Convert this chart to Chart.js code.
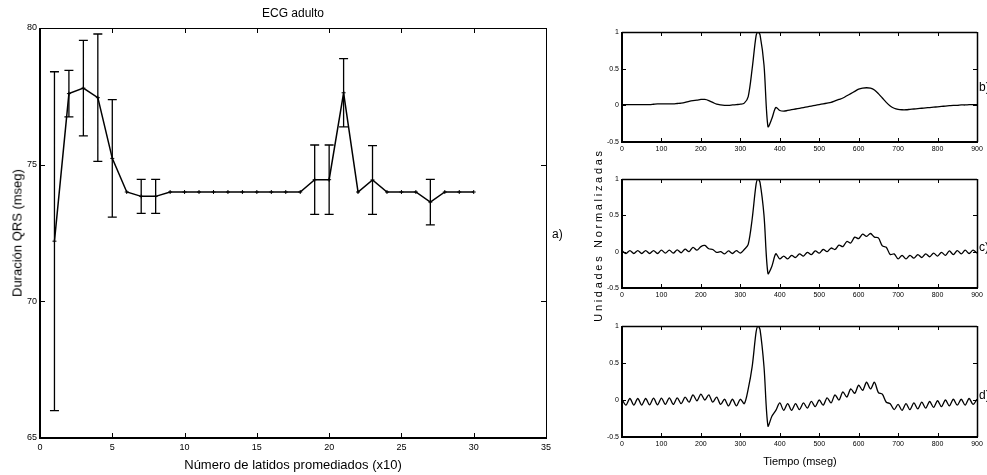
<!DOCTYPE html>
<html><head><meta charset="utf-8">
<script src="https://cdn.jsdelivr.net/npm/chart.js@4.4.1/dist/chart.umd.min.js"></script>
<style>
html,body{margin:0;padding:0;background:#fff;width:987px;height:475px;overflow:hidden;position:relative;font-family:'Liberation Sans',Arial,sans-serif;}
canvas{position:absolute;}
.t{position:absolute;color:#000;white-space:nowrap;line-height:1;}
.narrow{font-family:'Liberation Sans Narrow','Liberation Sans',Arial,sans-serif;}
</style></head>
<body>
<canvas id="cA" width="560" height="475" style="left:0;top:0"></canvas>
<canvas id="cB" width="397" height="134" style="left:590px;top:22px"></canvas>
<canvas id="cC" width="397" height="133" style="left:590px;top:169px"></canvas>
<canvas id="cD" width="397" height="135" style="left:590px;top:316px"></canvas>

<div class="t" style="left:293px;top:7px;font-size:12px;transform:translateX(-50%)">ECG adulto</div>
<div class="t" style="left:17px;top:233px;font-size:13px;transform:translate(-50%,-50%) rotate(-90deg)">Duración QRS (mseg)</div>
<div class="t" style="left:293px;top:458px;font-size:13px;transform:translateX(-50%)">Número de latidos promediados (x10)</div>
<div class="t" style="left:552px;top:228px;font-size:12px">a)</div>
<div class="t narrow" style="left:979px;top:81px;font-size:12px">b)</div>
<div class="t narrow" style="left:979px;top:241px;font-size:12px">c)</div>
<div class="t narrow" style="left:979px;top:389px;font-size:12px">d)</div>
<div class="t" style="left:598px;top:235px;font-size:11px;letter-spacing:2.7px;transform:translate(-50%,-50%) rotate(-90deg)">Unidades&nbsp;Normalizadas</div>
<div class="t narrow" style="left:800px;top:456px;font-size:11px;transform:translateX(-50%)">Tiempo (mseg)</div>

<script>
// ---------- Data: panel a) ----------
const latidos = [1,2,3,4,5,6,7,8,9,10,11,12,13,14,15,16,17,18,19,20,21,22,23,24,25,26,27,28,29,30];
const qrsMedia = [72.2,77.6,77.8,77.45,75.23,74.0,73.84,73.84,74,74,74,74,74,74,74,74,74,74,74.45,74.45,77.63,74,74.44,74,74,74,73.63,74,74,74];
const qrsError = [6.2,0.85,1.75,2.33,2.15,0,0.62,0.62,0,0,0,0,0,0,0,0,0,0,1.27,1.27,1.25,0,1.26,0,0,0,0.83,0,0,0];
const xTicksA = [0,5,10,15,20,25,30,35];
const yTicksA = [65,70,75,80];

// ---------- Data: panels b), c), d) ----------
const tiempo = [0,10,20,30,40,50,60,70,80,90,100,110,120,130,140,150,160,170,180,190,200,210,220,230,240,250,260,270,280,290,300,310,320,330,340,345,350,360,370,380,390,400,410,420,430,440,450,460,470,480,490,500,510,520,530,540,550,560,570,580,590,600,610,620,630,640,650,660,670,680,690,700,710,720,730,740,750,760,770,780,790,800,810,820,830,840,850,860,870,880,890,900];
const ecgB = [0.01,0.01,0.01,0.01,0.01,0.01,0.01,0.01,0.015,0.02,0.02,0.02,0.02,0.02,0.025,0.03,0.04,0.055,0.065,0.07,0.08,0.08,0.065,0.04,0.015,0.005,0.0,0.0,0.005,0.01,0.015,0.03,0.12,0.5,0.95,1.0,0.96,0.55,-0.29,-0.18,-0.03,-0.07,-0.08,-0.07,-0.06,-0.05,-0.04,-0.03,-0.02,-0.01,0.0,0.01,0.02,0.03,0.04,0.06,0.08,0.1,0.13,0.16,0.19,0.22,0.235,0.24,0.235,0.21,0.16,0.1,0.04,-0.01,-0.04,-0.055,-0.06,-0.06,-0.055,-0.05,-0.045,-0.04,-0.035,-0.03,-0.025,-0.02,-0.015,-0.01,-0.005,0.0,0.0,0.005,0.005,0.01,0.01,0.01];
const ecgC = [0.015,-0.025,0.015,-0.025,0.015,-0.025,0.015,-0.025,0.015,-0.025,0.02,-0.02,0.02,-0.02,0.025,-0.015,0.035,0.0,0.06,0.02,0.07,0.085,0.04,0.03,-0.01,0.0,-0.03,0.01,-0.025,0.015,-0.02,0.03,0.1,0.45,0.93,1.0,0.95,0.5,-0.3,-0.2,-0.03,-0.1,-0.06,-0.1,-0.05,-0.08,-0.03,-0.06,-0.01,-0.04,0.01,-0.02,0.03,0.0,0.05,0.03,0.09,0.07,0.14,0.12,0.2,0.18,0.24,0.21,0.25,0.2,0.19,0.08,0.06,-0.04,-0.03,-0.1,-0.05,-0.1,-0.05,-0.09,-0.04,-0.08,-0.03,-0.07,-0.02,-0.06,-0.01,-0.05,0.01,-0.04,0.015,-0.03,0.02,-0.025,0.02,-0.02];
const ecgD = [0.01,-0.07,0.02,-0.07,0.02,-0.07,0.02,-0.065,0.025,-0.065,0.025,-0.06,0.03,-0.06,0.03,-0.05,0.04,-0.03,0.07,-0.01,0.08,0.0,0.07,-0.03,0.04,-0.06,0.01,-0.08,0.01,-0.08,0.01,-0.05,0.15,0.45,0.92,1.0,0.95,0.45,-0.35,-0.22,-0.14,-0.04,-0.14,-0.05,-0.14,-0.05,-0.13,-0.04,-0.11,-0.02,-0.09,0.0,-0.07,0.03,-0.04,0.07,0.0,0.11,0.04,0.15,0.09,0.2,0.13,0.24,0.15,0.24,0.1,0.08,-0.03,-0.05,-0.13,-0.06,-0.14,-0.05,-0.13,-0.04,-0.12,-0.03,-0.11,-0.02,-0.1,-0.01,-0.09,0.0,-0.08,0.01,-0.07,0.01,-0.07,0.02,-0.06,0.01];
const xTicksT = [0,100,200,300,400,500,600,700,800,900];
const yTicksT = [-0.5,0,0.5,1];

Chart.defaults.font.family = "'Liberation Sans', Arial, sans-serif";
Chart.defaults.color = '#000';
Chart.defaults.animation = false;

// MATLAB-like box with inward ticks on all four sides
const boxPlugin = {
  id: 'box',
  afterDraw(chart, args, opts) {
    const {ctx, chartArea: a, scales: {x, y}} = chart;
    const L = opts.len || 5;
    ctx.save();
    ctx.strokeStyle = '#000';
    ctx.lineWidth = 1;
    ctx.beginPath();
    x.ticks.forEach(t => {
      const p = Math.round(x.getPixelForValue(t.value)) + 0.5;
      ctx.moveTo(p, a.bottom); ctx.lineTo(p, a.bottom - L);
      ctx.moveTo(p, a.top); ctx.lineTo(p, a.top + L);
    });
    y.ticks.forEach(t => {
      const p = Math.round(y.getPixelForValue(t.value)) + 0.5;
      ctx.moveTo(a.left, p); ctx.lineTo(a.left + L, p);
      ctx.moveTo(a.right, p); ctx.lineTo(a.right - L, p);
    });
    ctx.stroke();
    ctx.lineWidth = opts.thin || 1;
    ctx.beginPath();
    ctx.moveTo(a.left, Math.round(a.top) + 0.5); ctx.lineTo(a.right, Math.round(a.top) + 0.5);
    ctx.moveTo(Math.round(a.right) + 0.5, a.top); ctx.lineTo(Math.round(a.right) + 0.5, a.bottom);
    ctx.stroke();
    ctx.lineWidth = opts.thick || 2;
    ctx.beginPath();
    ctx.moveTo(Math.round(a.left), a.top); ctx.lineTo(Math.round(a.left), Math.round(a.bottom));
    ctx.lineTo(a.right + 1, Math.round(a.bottom));
    ctx.stroke();
    ctx.restore();
  }
};

const errPlugin = {
  id: 'errbars',
  afterDatasetsDraw(chart) {
    const {ctx, scales: {x, y}} = chart;
    ctx.save();
    ctx.strokeStyle = '#000';
    ctx.lineWidth = 1.3;
    ctx.beginPath();
    latidos.forEach((lx, i) => {
      const e = qrsError[i];
      if (!e) return;
      const px = x.getPixelForValue(lx);
      const top = y.getPixelForValue(qrsMedia[i] + e);
      const bot = y.getPixelForValue(qrsMedia[i] - e);
      ctx.moveTo(px, top); ctx.lineTo(px, bot);
      ctx.moveTo(px - 4.5, top); ctx.lineTo(px + 4.5, top);
      ctx.moveTo(px - 4.5, bot); ctx.lineTo(px + 4.5, bot);
    });
    ctx.stroke();
    ctx.restore();
  }
};

new Chart(document.getElementById('cA'), {
  type: 'scatter',
  data: { datasets: [{
    data: latidos.map((v, i) => ({x: v, y: qrsMedia[i]})),
    showLine: true, borderColor: '#000', borderWidth: 1.5,
    pointStyle: 'cross', pointRadius: 2, pointBorderWidth: 1, pointBorderColor: '#000', pointBackgroundColor: '#000'
  }]},
  options: {
    responsive: false,
    layout: { padding: { top: 28, right: 14, left: 0, bottom: 0 } },
    plugins: { legend: { display: false }, tooltip: { enabled: false }, box: { len: 5, thick: 2, thin: 1 } },
    scales: {
      x: { type: 'linear', min: 0, max: 35, afterBuildTicks: s => { s.ticks = xTicksA.map(v => ({value: v})); },
           grid: { display: false, drawTicks: false }, border: { display: false },
           ticks: { font: { size: 9 }, padding: 4, maxRotation: 0, autoSkip: false, callback: v => String(v) },
           afterFit: s => { s.height = 37; } },
      y: { type: 'linear', min: 65, max: 80, afterBuildTicks: s => { s.ticks = yTicksA.map(v => ({value: v})); },
           grid: { display: false, drawTicks: false }, border: { display: false },
           ticks: { font: { size: 9 }, padding: 3, autoSkip: false, callback: v => String(v) },
           afterFit: s => { s.width = 40; } }
    }
  },
  plugins: [boxPlugin, errPlugin]
});

function panel(id, values, padTop) {
  new Chart(document.getElementById(id), {
    type: 'scatter',
    data: { datasets: [{
      data: tiempo.map((t, i) => ({x: t, y: values[i]})),
      showLine: true, borderColor: '#000', borderWidth: 1.3, pointRadius: 0, tension: 0.3
    }]},
    options: {
      responsive: false,
      layout: { padding: { top: padTop, right: 10, left: 0, bottom: 0 } },
      plugins: { legend: { display: false }, tooltip: { enabled: false }, box: { len: 4, thick: 2, thin: 1.5 } },
      scales: {
        x: { type: 'linear', min: 0, max: 900, afterBuildTicks: s => { s.ticks = xTicksT.map(v => ({value: v})); },
             grid: { display: false, drawTicks: false }, border: { display: false },
             ticks: { font: { size: 7, family: "'Liberation Sans Narrow','Liberation Sans',Arial" }, padding: 3, maxRotation: 0, autoSkip: false, callback: v => String(v) },
             afterFit: s => { s.height = 14; } },
        y: { type: 'linear', min: -0.5, max: 1, afterBuildTicks: s => { s.ticks = yTicksT.map(v => ({value: v})); },
             grid: { display: false, drawTicks: false }, border: { display: false },
             ticks: { font: { size: 7, family: "'Liberation Sans Narrow','Liberation Sans',Arial" }, padding: 3, autoSkip: false, callback: v => String(v) },
             afterFit: s => { s.width = 32; } }
      }
    },
    plugins: [boxPlugin]
  });
}
panel('cB', ecgB, 10);
panel('cC', ecgC, 10);
panel('cD', ecgD, 10);
</script>
</body></html>
